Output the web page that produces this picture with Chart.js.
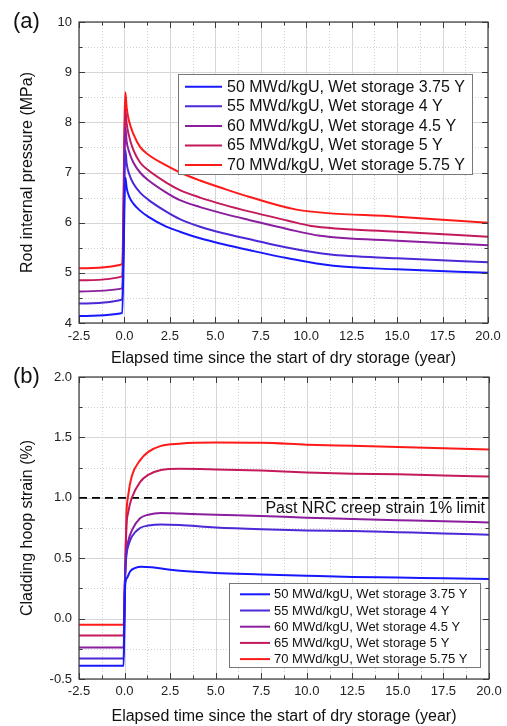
<!DOCTYPE html>
<html>
<head>
<meta charset="utf-8">
<script src="https://cdn.jsdelivr.net/npm/chart.js@4.4.1/dist/chart.umd.min.js"></script>
<style>
  html, body { margin: 0; padding: 0; background: #fff; }
  #wrap { position: relative; width: 507px; height: 726px; overflow: hidden; }
  #c1 { position: absolute; left: 0; top: 0; }
  #c2 { position: absolute; left: 0; top: 360px; }
</style>
</head>
<body>
<div id="wrap">
  <canvas id="c1" width="507" height="372"></canvas>
  <canvas id="c2" width="507" height="366"></canvas>
</div>
<script>
// series names + colours (50 -> 70 MWd/kgU)
const seriesLabels = [
  '50 MWd/kgU, Wet storage 3.75 Y',
  '55 MWd/kgU, Wet storage 4 Y',
  '60 MWd/kgU, Wet storage 4.5 Y',
  '65 MWd/kgU, Wet storage 5 Y',
  '70 MWd/kgU, Wet storage 5.75 Y'
];
const seriesColors = ['#1818ff', '#4c28d6', '#8a1e9e', '#c41a5c', '#ff1a1a'];

// axis ticks
const timeTicks = [-2.5, 0, 2.5, 5, 7.5, 10, 12.5, 15, 17.5, 20];
const pressureTicks = [4, 5, 6, 7, 8, 9, 10];
const strainTicks = [-0.5, 0, 0.5, 1.0, 1.5, 2.0];

// (a) rod internal pressure (MPa) vs elapsed time (year)
const pTime50 = [-2.5, -0.12, 0.05, 0.12, 0.25, 0.49, 0.86, 1.3, 2.3, 3.05, 4.16, 5.44, 6.9, 9.0, 11.49, 15, 20];
const pVal50  = [4.14, 4.20, 6.9, 6.7, 6.53, 6.38, 6.24, 6.12, 5.92, 5.82, 5.69, 5.57, 5.45, 5.29, 5.14, 5.07, 5.0];
const pTime55 = [-2.5, -0.12, 0.05, 0.12, 0.25, 0.49, 0.86, 1.3, 2.3, 3.05, 4.16, 5.44, 6.9, 9.0, 11.21, 15, 20];
const pVal55  = [4.39, 4.47, 7.45, 7.18, 6.98, 6.78, 6.6, 6.46, 6.22, 6.07, 5.92, 5.79, 5.67, 5.5, 5.37, 5.29, 5.21];
const pTime60 = [-2.5, -0.12, 0.05, 0.12, 0.25, 0.49, 0.86, 1.3, 2.3, 3.05, 4.16, 5.44, 6.9, 9.0, 10.76, 15, 20];
const pVal60  = [4.63, 4.69, 7.9, 7.62, 7.42, 7.2, 7.0, 6.85, 6.6, 6.45, 6.31, 6.18, 6.05, 5.87, 5.74, 5.64, 5.55];
const pTime65 = [-2.5, -0.12, 0.05, 0.12, 0.25, 0.49, 0.86, 1.3, 2.3, 3.05, 4.16, 5.44, 6.9, 9.0, 10.2, 15, 20];
const pVal65  = [4.85, 4.93, 8.25, 7.98, 7.73, 7.45, 7.2, 7.05, 6.8, 6.65, 6.5, 6.36, 6.22, 6.04, 5.94, 5.82, 5.72];
const pTime70 = [-2.5, -0.12, 0.05, 0.12, 0.25, 0.49, 0.86, 1.3, 2.3, 3.05, 4.16, 5.44, 6.9, 9.47, 15, 20];
const pVal70  = [5.09, 5.17, 8.6, 8.3, 8.03, 7.77, 7.51, 7.36, 7.14, 7.0, 6.84, 6.68, 6.51, 6.26, 6.12, 6.0];

// (b) cladding hoop strain (%) vs elapsed time (year)
const sTime50 = [-2.5, -0.05, 0.0, 0.05, 0.15, 0.3, 0.6, 0.9, 1.5, 2.5, 5, 7.5, 10, 12.5, 15, 17.5, 20];
const sVal50  = [-0.39, -0.39, 0.1, 0.3, 0.34, 0.39, 0.42, 0.43, 0.425, 0.405, 0.378, 0.366, 0.355, 0.345, 0.34, 0.333, 0.328];
const sTime   = [-2.5, -0.05, 0.02, 0.1, 0.2, 0.4, 0.85, 1.3, 2.0, 3, 5, 7.5, 10, 12.5, 15, 17.5, 20];
const sVal55  = [-0.33, -0.33, 0.3, 0.52, 0.6, 0.68, 0.75, 0.77, 0.78, 0.775, 0.755, 0.74, 0.73, 0.725, 0.715, 0.705, 0.694];
const sVal60  = [-0.24, -0.24, 0.3, 0.55, 0.64, 0.73, 0.83, 0.86, 0.875, 0.87, 0.86, 0.85, 0.835, 0.825, 0.815, 0.805, 0.796];
const sVal65  = [-0.14, -0.14, 0.3, 0.75, 0.88, 1.0, 1.13, 1.19, 1.23, 1.24, 1.235, 1.225, 1.21, 1.2, 1.195, 1.185, 1.176];
const sVal70  = [-0.05, -0.05, 0.3, 0.85, 1.02, 1.18, 1.31, 1.38, 1.43, 1.448, 1.457, 1.455, 1.44, 1.43, 1.42, 1.41, 1.40];

const limitValue = 1.0;
const limitText = 'Past NRC creep strain 1% limit';

const FONT = '"Liberation Sans", Arial, sans-serif';
const near = (arr, v) => arr.some(a => Math.abs(a - v) < 1e-6);
const toPts = (t, v) => t.map((x, i) => ({ x, y: v[i] }));

function lineSets(pairs) {
  return pairs.map(([t, v], i) => ({
    label: seriesLabels[i],
    data: toPts(t, v),
    borderColor: seriesColors[i],
    borderWidth: 2,
    cubicInterpolationMode: 'monotone'
  }));
}

// grid, inward ticks, frame, panel tag, legend, note
const framePlugin = {
  id: 'frame',
  beforeDatasetsDraw(chart) {
    const { ctx, chartArea: a, scales: { x, y } } = chart;
    ctx.save();
    ctx.lineWidth = 1;
    x.ticks.forEach(t => {
      const px = Math.round(x.getPixelForValue(t.value)) + 0.5;
      ctx.strokeStyle = t.label !== '' ? '#d6d6d6' : '#cfcfcf';
      ctx.setLineDash(t.label !== '' ? [] : [1, 2]);
      ctx.beginPath(); ctx.moveTo(px, a.top); ctx.lineTo(px, a.bottom); ctx.stroke();
    });
    y.ticks.forEach(t => {
      const py = Math.round(y.getPixelForValue(t.value)) + 0.5;
      ctx.strokeStyle = t.label !== '' ? '#d6d6d6' : '#cfcfcf';
      ctx.setLineDash(t.label !== '' ? [] : [1, 2]);
      ctx.beginPath(); ctx.moveTo(a.left, py); ctx.lineTo(a.right, py); ctx.stroke();
    });
    ctx.restore();
  },
  afterDatasetsDraw(chart, args, o) {
    const { ctx, chartArea: a, scales: { x, y } } = chart;
    ctx.save();
    // frame
    ctx.strokeStyle = '#3a3a3a';
    ctx.lineWidth = 1.2;
    ctx.strokeRect(a.left, a.top, a.right - a.left, a.bottom - a.top);
    // inward ticks on all four sides
    ctx.lineWidth = 1;
    x.ticks.forEach(t => {
      const px = Math.round(x.getPixelForValue(t.value)) + 0.5;
      const len = t.label !== '' ? 6 : 3.5;
      ctx.beginPath();
      ctx.moveTo(px, a.bottom); ctx.lineTo(px, a.bottom - len);
      ctx.moveTo(px, a.top); ctx.lineTo(px, a.top + len);
      ctx.stroke();
    });
    y.ticks.forEach(t => {
      const py = Math.round(y.getPixelForValue(t.value)) + 0.5;
      const len = t.label !== '' ? 6 : 3.5;
      ctx.beginPath();
      ctx.moveTo(a.left, py); ctx.lineTo(a.left + len, py);
      ctx.moveTo(a.right, py); ctx.lineTo(a.right - len, py);
      ctx.stroke();
    });
    // note under the limit line
    if (o.note) {
      ctx.fillStyle = '#111';
      ctx.font = '16px ' + FONT;
      ctx.textAlign = 'right';
      ctx.textBaseline = 'middle';
      ctx.fillText(o.note.text, a.right - 4, y.getPixelForValue(o.note.value) + 11);
    }
    ctx.restore();
  },
  afterDraw(chart, args, o) {
    const { ctx } = chart;
    ctx.save();
    // panel tag
    ctx.fillStyle = '#111';
    ctx.font = '22px ' + FONT;
    ctx.textAlign = 'left';
    ctx.textBaseline = 'alphabetic';
    ctx.fillText(o.tag, 13, o.tagY);
    // legend box
    const L = o.legend;
    ctx.fillStyle = '#fff';
    ctx.fillRect(L.x0, L.y0, L.x1 - L.x0, L.y1 - L.y0);
    ctx.strokeStyle = '#777';
    ctx.lineWidth = 1;
    ctx.strokeRect(L.x0 + 0.5, L.y0 + 0.5, L.x1 - L.x0, L.y1 - L.y0);
    ctx.font = L.font + 'px ' + FONT;
    ctx.textBaseline = 'middle';
    chart.data.datasets.filter(d => !d.noLegend).forEach((d, i) => {
      const yy = L.rowY + i * L.rowDy;
      ctx.strokeStyle = d.borderColor;
      ctx.lineWidth = 2;
      ctx.beginPath(); ctx.moveTo(L.lx0, yy); ctx.lineTo(L.lx1, yy); ctx.stroke();
      ctx.fillStyle = '#111';
      ctx.fillText(d.label, L.tx, yy + 0.5);
    });
    ctx.restore();
  }
};

function makeChart(id, datasets, c) {
  return new Chart(document.getElementById(id), {
    type: 'line',
    data: { datasets },
    options: {
      responsive: false,
      animation: false,
      events: [],
      layout: { padding: c.padding },
      elements: { point: { radius: 0 } },
      plugins: { legend: { display: false }, tooltip: { enabled: false }, frame: c.frame },
      scales: {
        x: {
          type: 'linear', min: -2.5, max: 20,
          afterFit: s => { s.height = c.xHeight; },
          grid: { display: false, drawTicks: false },
          border: { display: false },
          ticks: {
            stepSize: 1.25, autoSkip: false, maxRotation: 0, padding: c.xPad,
            color: '#222', font: { size: 13, family: FONT },
            callback: v => near(timeTicks, v) ? v.toFixed(1) : ''
          },
          title: {
            display: true, text: 'Elapsed time since the start of dry storage (year)',
            color: '#111', font: { size: 16, family: FONT },
            padding: { top: 0, bottom: c.xTitlePad }
          }
        },
        y: {
          type: 'linear', min: c.yMin, max: c.yMax,
          afterFit: s => { s.width = 79; },
          grid: { display: false, drawTicks: false },
          border: { display: false },
          ticks: {
            stepSize: c.yStep, autoSkip: false, padding: 7,
            color: '#222', font: { size: 13, family: FONT },
            callback: v => near(c.yTicks, v) ? c.yFmt(v) : ''
          },
          title: {
            display: true, text: c.yTitle,
            color: '#111', font: { size: 16, family: FONT },
            padding: { top: 18, bottom: 0 }
          }
        }
      }
    },
    plugins: [framePlugin]
  });
}

makeChart('c1', lineSets([
  [pTime50, pVal50], [pTime55, pVal55], [pTime60, pVal60], [pTime65, pVal65], [pTime70, pVal70]
]), {
  padding: { left: 0, right: 19, top: 22, bottom: 0 },
  xHeight: 49, xPad: 6, xTitlePad: 3.4,
  yMin: 4, yMax: 10, yStep: 0.5, yTicks: pressureTicks, yFmt: v => String(v),
  yTitle: 'Rod internal pressure (MPa)',
  frame: {
    tag: '(a)', tagY: 28,
    legend: { x0: 178, y0: 74, x1: 472, y1: 174, lx0: 185, lx1: 222, tx: 227, rowY: 86.7, rowDy: 19.6, font: 16 }
  }
});

const strainSets = lineSets([
  [sTime50, sVal50], [sTime, sVal55], [sTime, sVal60], [sTime, sVal65], [sTime, sVal70]
]);
strainSets.push({
  label: 'limit', noLegend: true,
  data: [{ x: -2.5, y: limitValue }, { x: 20, y: limitValue }],
  borderColor: '#000', borderWidth: 1.8, borderDash: [8, 5]
});

makeChart('c2', strainSets, {
  padding: { left: 0, right: 18, top: 17, bottom: 0 },
  xHeight: 47, xPad: 5, xTitlePad: 0,
  yMin: -0.5, yMax: 2.0, yStep: 0.25, yTicks: strainTicks, yFmt: v => v.toFixed(1),
  yTitle: 'Cladding hoop strain (%)',
  frame: {
    tag: '(b)', tagY: 23,
    note: { text: limitText, value: limitValue },
    legend: { x0: 229, y0: 223, x1: 480, y1: 307, lx0: 240, lx1: 270, tx: 274, rowY: 234.3, rowDy: 16.2, font: 13 }
  }
});
</script>
</body>
</html>
